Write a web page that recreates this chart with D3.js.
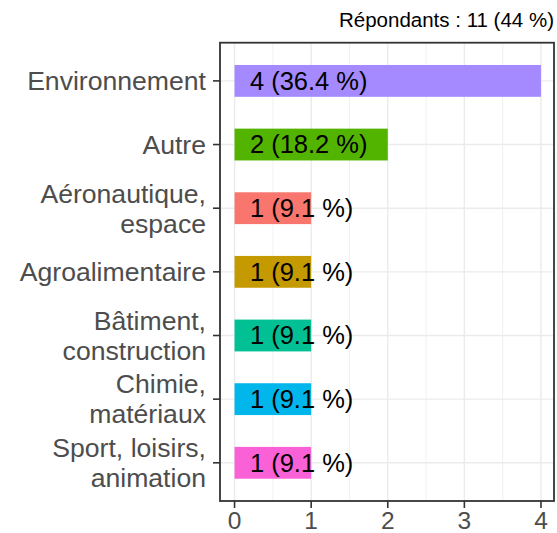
<!DOCTYPE html>
<html lang="fr">
<head>
<meta charset="utf-8" />
<title>Répondants</title>
<style>
html,body{margin:0;background:#fff}
svg{display:block;font-family:"Liberation Sans",Arial,sans-serif}
</style>
<script src="https://cdn.jsdelivr.net/npm/d3@7/dist/d3.min.js"></script>
</head>
<body>
<div id="chart"></div>
<script>
/* ---- data ---- */
const categories = ["Environnement", "Autre", "Aéronautique, espace", "Agroalimentaire",
                    "Bâtiment, construction", "Chimie, matériaux", "Sport, loisirs, animation"];
const labelLines = [["Environnement"], ["Autre"], ["Aéronautique,", "espace"], ["Agroalimentaire"],
                    ["Bâtiment,", "construction"], ["Chimie,", "matériaux"], ["Sport, loisirs,", "animation"]];
const counts   = [4, 2, 1, 1, 1, 1, 1];
const percents = ["36.4", "18.2", "9.1", "9.1", "9.1", "9.1", "9.1"];
const colors   = ["#A58AFF", "#53B400", "#F8766D", "#C49A00", "#00C094", "#00B6EB", "#FB61D7"];
const xTicks   = [0, 1, 2, 3, 4];
const title    = "Répondants : 11 (44 %)";

const width = 557, height = 533;
const panel = {left: 220, right: 554, top: 42.7, bottom: 501};

const svg = d3.select("#chart").append("svg")
  .attr("width", width).attr("height", height);

const x = d3.scaleLinear().domain([-0.19, 4.17]).range([panel.left, panel.right]);
// discrete axis with 0.6 expansion each side
const y = d3.scaleLinear().domain([-0.6, categories.length - 1 + 0.6])
  .range([panel.top, panel.bottom]);
const barH = (y(1) - y(0)) * 0.5;

/* ---- grid ---- */
const grid = svg.append("g");
d3.range(-0.5, 4.5, 0.5).forEach(v => {
  if (x(v) < panel.left || x(v) > panel.right) return;
  const major = Number.isInteger(v);
  grid.append("line")
    .attr("x1", x(v)).attr("x2", x(v))
    .attr("y1", panel.top).attr("y2", panel.bottom)
    .attr("stroke", "#EBEBEB").attr("stroke-width", major ? 1.4 : 0.7);
});
categories.forEach((c, i) => {
  grid.append("line")
    .attr("x1", panel.left).attr("x2", panel.right)
    .attr("y1", y(i)).attr("y2", y(i))
    .attr("stroke", "#EBEBEB").attr("stroke-width", 1.4);
});

/* ---- bars ---- */
svg.append("g").selectAll("rect").data(counts).join("rect")
  .attr("x", x(0))
  .attr("y", (d, i) => y(i) - barH / 2)
  .attr("width", d => x(d) - x(0))
  .attr("height", barH)
  .attr("fill", (d, i) => colors[i]);

svg.append("g").selectAll("text").data(counts).join("text")
  .attr("x", x(0.2))
  .attr("y", (d, i) => y(i))
  .attr("dy", "0.35em")
  .attr("font-size", 25.5)
  .attr("fill", "#000")
  .text((d, i) => `${d} (${percents[i]} %)`);

/* ---- panel border ---- */
svg.append("rect")
  .attr("x", panel.left).attr("y", panel.top)
  .attr("width", panel.right - panel.left).attr("height", panel.bottom - panel.top)
  .attr("fill", "none").attr("stroke", "#333").attr("stroke-width", 1.8);

/* ---- y axis ---- */
const yAx = svg.append("g");
labelLines.forEach((lines, i) => {
  const cy = y(i);
  yAx.append("line")
    .attr("x1", panel.left - 7).attr("x2", panel.left)
    .attr("y1", cy).attr("y2", cy)
    .attr("stroke", "#333").attr("stroke-width", 1.6);
  const t = yAx.append("text")
    .attr("text-anchor", "end")
    .attr("font-size", 26.6)
    .attr("fill", "#4D4D4D");
  const lh = 30, off = -(lines.length - 1) * lh / 2;
  lines.forEach((s, k) => {
    t.append("tspan").attr("x", panel.left - 14)
      .attr("y", cy + off + k * lh).attr("dy", "0.35em").text(s);
  });
});

/* ---- x axis ---- */
const xAx = svg.append("g");
xTicks.forEach(v => {
  xAx.append("line")
    .attr("x1", x(v)).attr("x2", x(v))
    .attr("y1", panel.bottom).attr("y2", panel.bottom + 7)
    .attr("stroke", "#333").attr("stroke-width", 1.6);
  xAx.append("text")
    .attr("x", x(v)).attr("y", 529)
    .attr("text-anchor", "middle")
    .attr("font-size", 24.5)
    .attr("fill", "#4D4D4D")
    .text(v);
});

/* ---- title ---- */
svg.append("text")
  .attr("x", 554).attr("y", 27)
  .attr("text-anchor", "end")
  .attr("font-size", 20.5)
  .attr("fill", "#000")
  .text(title);
</script>
</body>
</html>
